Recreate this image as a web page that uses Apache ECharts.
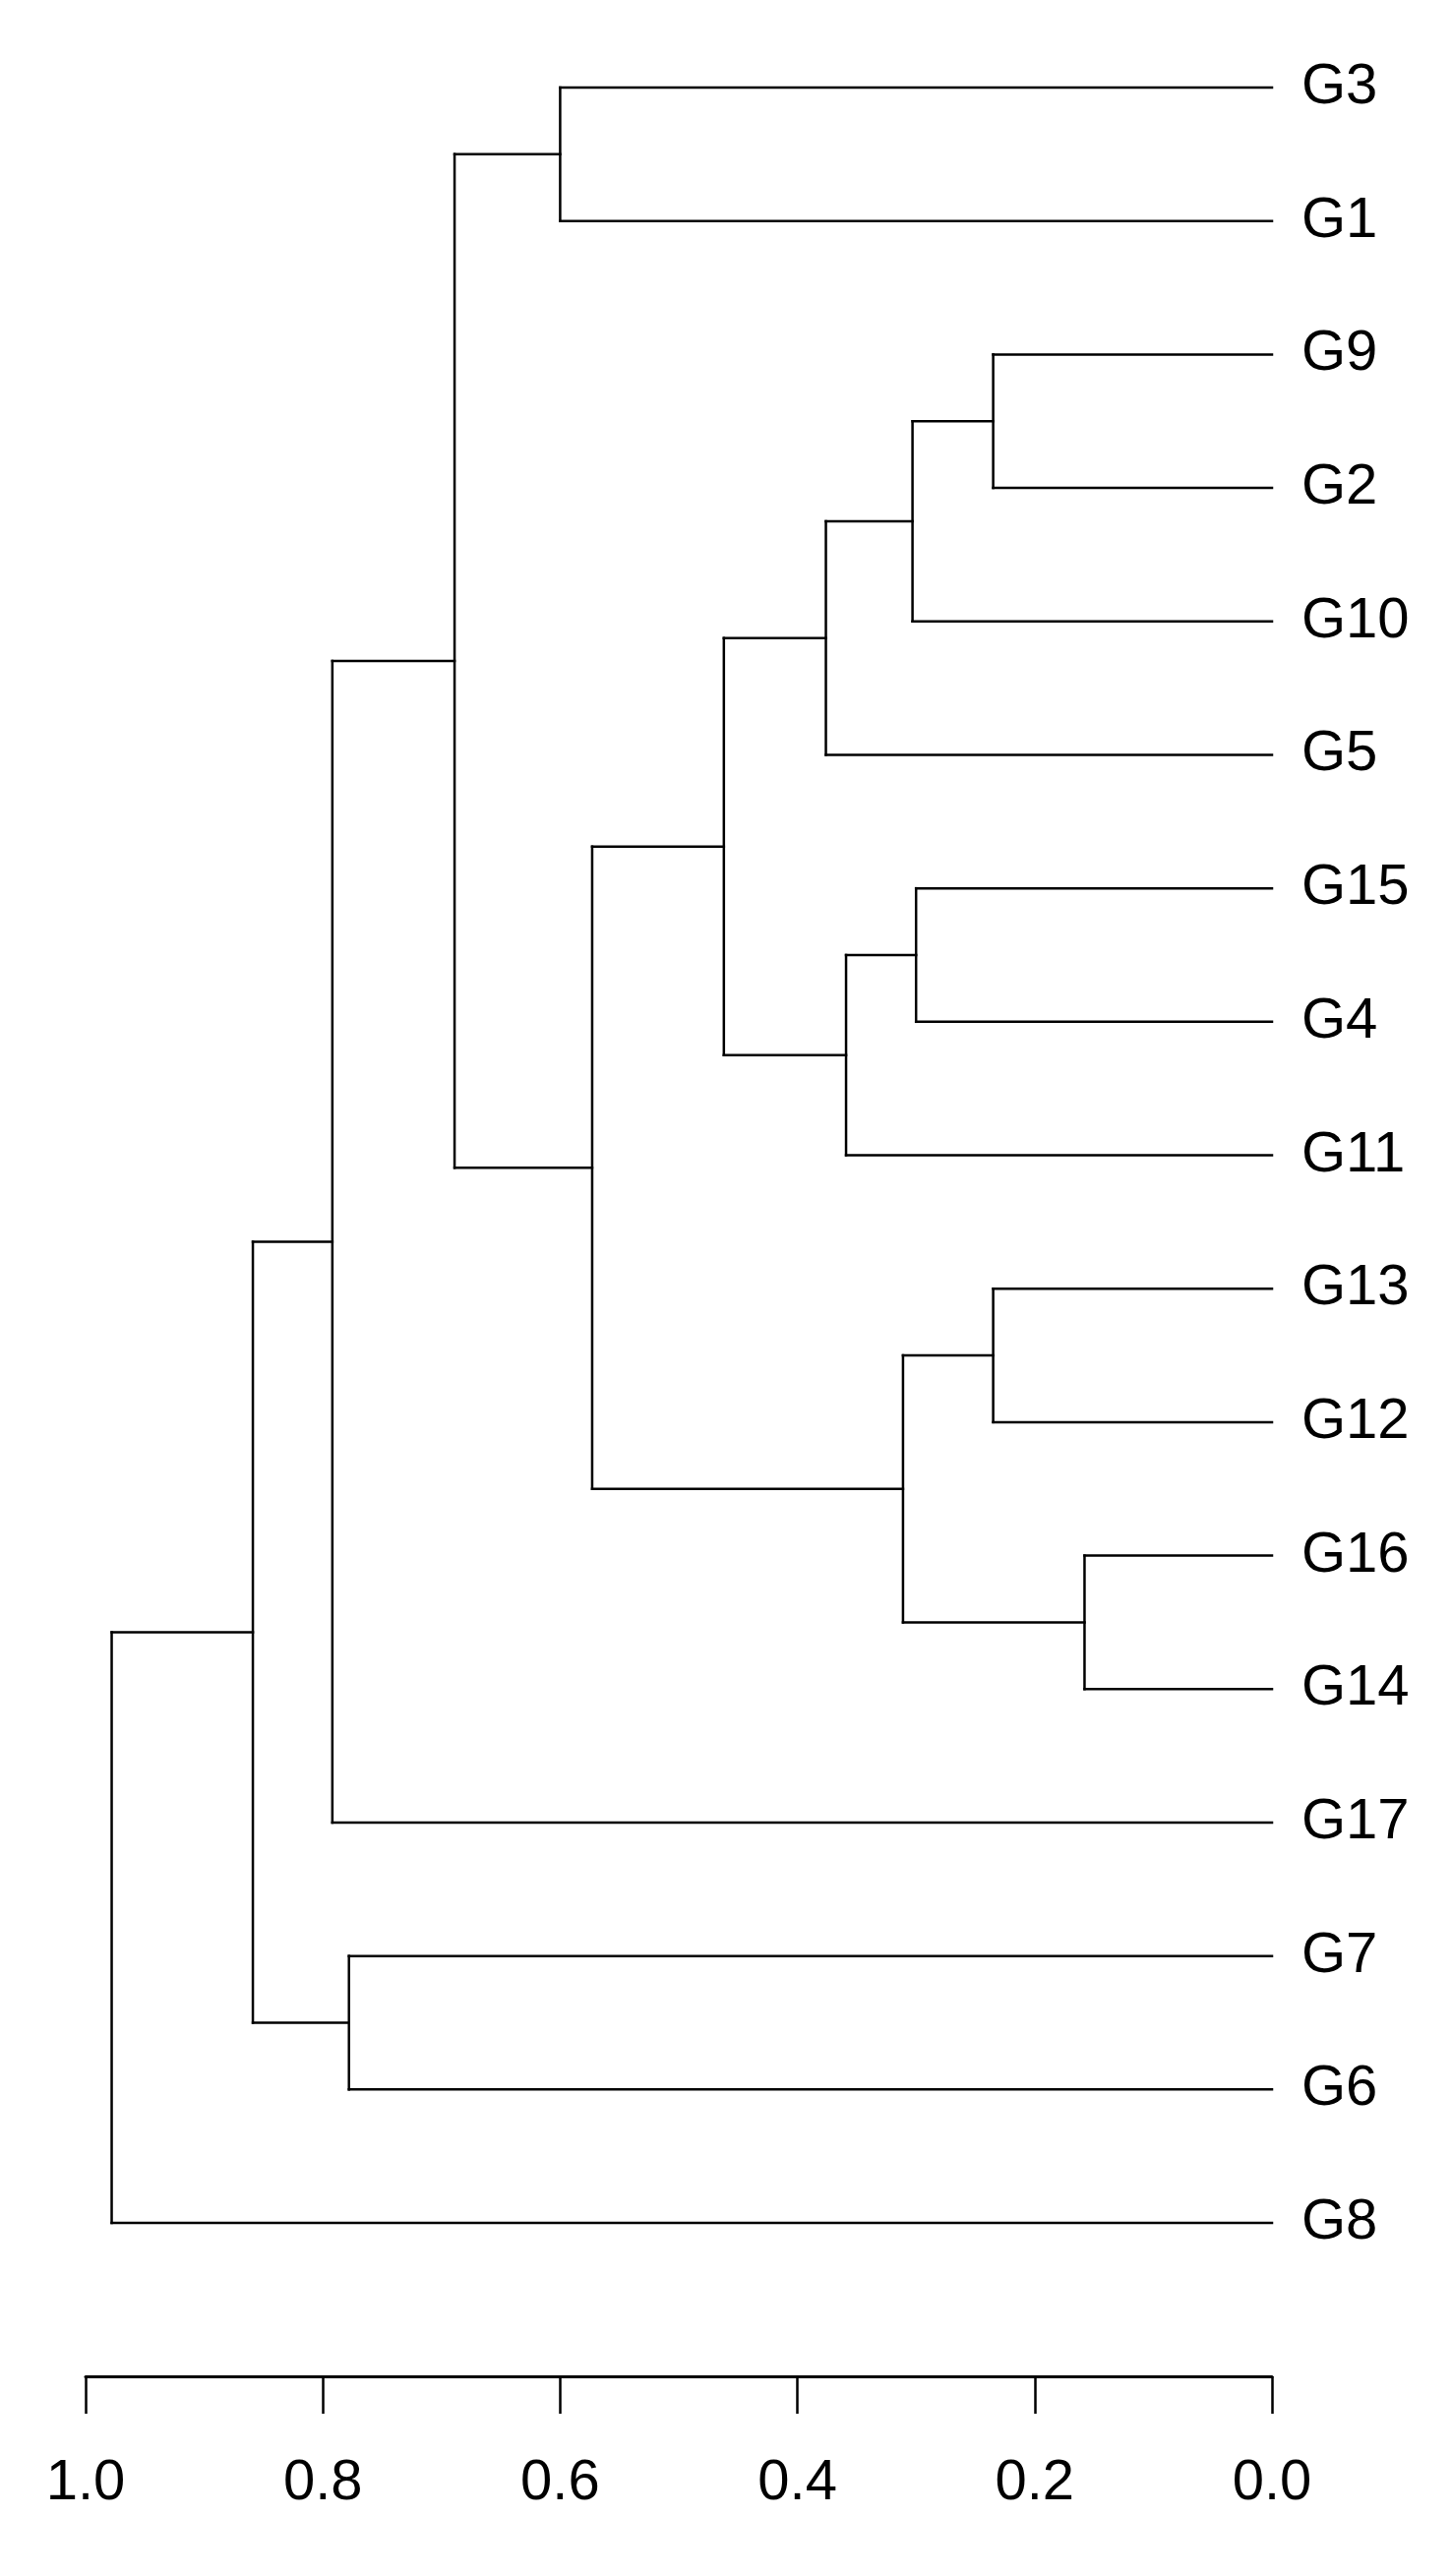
<!DOCTYPE html>
<html>
<head>
<meta charset="utf-8">
<script src="https://cdn.jsdelivr.net/npm/echarts@6/dist/echarts.min.js"></script>
<style>
html,body{margin:0;padding:0;background:#fff;}
#chart{width:1476px;height:2619px;}
</style>
</head>
<body>
<div id="chart"></div>
<script>
// Leaf order, top to bottom
const leafLabels = ['G3','G1','G9','G2','G10','G5','G15','G4','G11','G13','G12','G16','G14','G17','G7','G6','G8'];
// Merge steps (children: leaf name or 'mN' = earlier merge N), heights
const mergeLeft   = ['G16','G9','G13','G15','m2','m3','m4','m5','m8','m9','G3','m11','G7','m12','m14','m15'];
const mergeRight  = ['G14','G2','G12','G4','G10','m1','G11','G5','m7','m6','G1','m10','G6','G17','m13','G8'];
const mergeHeight = [0.158,0.235,0.235,0.300,0.303,0.311,0.359,0.376,0.462,0.573,0.600,0.689,0.778,0.792,0.859,0.978];
const axisTicks = [1.0,0.8,0.6,0.4,0.2,0.0];

// Build segments [x1,y1,x2,y2] in data units
const nodePos = {};
leafLabels.forEach((l,i)=>{ nodePos[l] = {y:i, h:0}; });
const segments = [];
mergeHeight.forEach((h,k)=>{
  const a = nodePos[mergeLeft[k]], b = nodePos[mergeRight[k]];
  segments.push([h, a.y, h, b.y]);
  segments.push([h, a.y, a.h, a.y]);
  segments.push([h, b.y, b.h, b.y]);
  nodePos['m'+(k+1)] = {y:(a.y+b.y)/2, h:h};
});

const chart = echarts.init(document.getElementById('chart'), null, {renderer:'canvas'});
const FONT = '"Liberation Sans", Arial, Helvetica, sans-serif';
chart.setOption({
  backgroundColor:'#ffffff',
  animation:false,
  grid:{left:87, right:183, top:89, bottom:359, containLabel:false},
  xAxis:{
    type:'value', inverse:true, min:0, max:1, interval:0.2,
    offset:156,
    axisLine:{show:true, onZero:false, lineStyle:{color:'#000', width:3}},
    axisTick:{show:true, length:38, lineStyle:{color:'#000', width:2.5}},
    axisLabel:{margin:80, color:'#000', fontSize:58, fontFamily:FONT,
      formatter:v=>v.toFixed(1)},
    splitLine:{show:false}
  },
  yAxis:[
    {type:'value', inverse:true, min:0, max:leafLabels.length-1, show:false},
    {type:'category', inverse:true, boundaryGap:false, data:leafLabels, position:'right',
      axisLine:{show:false}, axisTick:{show:false}, splitLine:{show:false},
      axisLabel:{margin:30, color:'#000', fontSize:58, fontFamily:FONT, interval:0}}
  ],
  series:[{
    type:'custom',
    xAxisIndex:0, yAxisIndex:0,
    data:segments,
    renderItem:(params, api)=>{
      const p1 = api.coord([api.value(0), api.value(1)]);
      const p2 = api.coord([api.value(2), api.value(3)]);
      return {type:'line', shape:{x1:p1[0], y1:p1[1], x2:p2[0], y2:p2[1]},
        style:{stroke:'#000', lineWidth:2.5, lineCap:'square'}};
    }
  }]
});
</script>
</body>
</html>
